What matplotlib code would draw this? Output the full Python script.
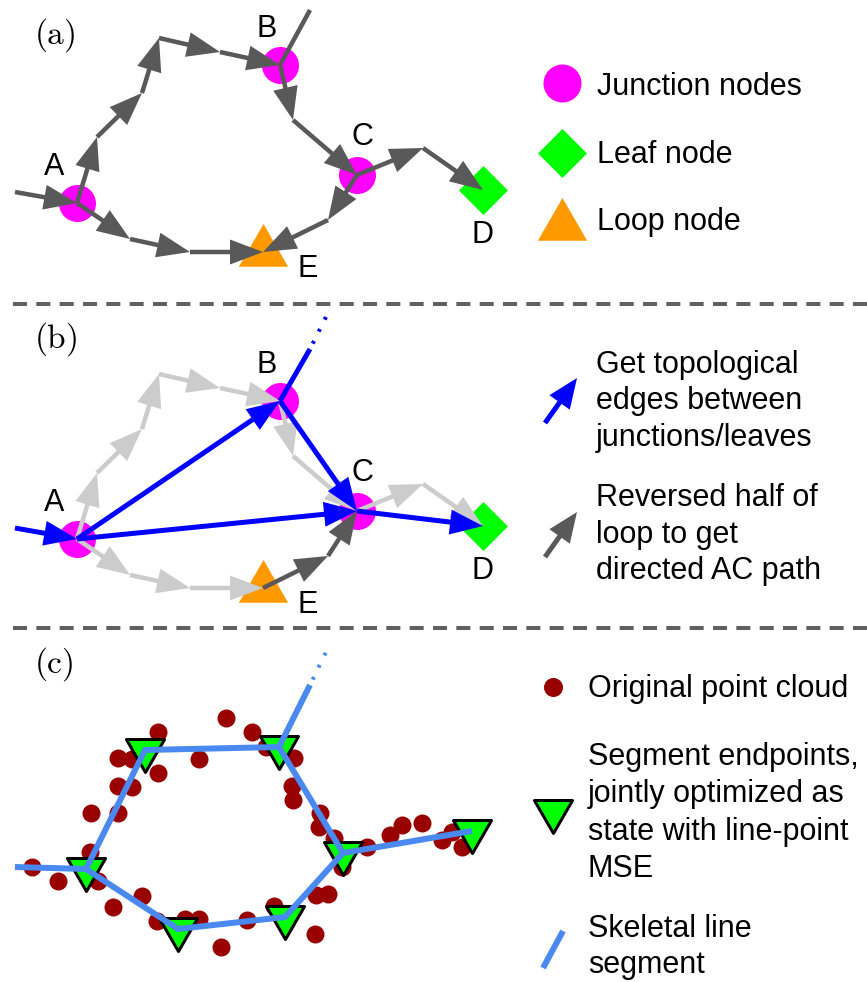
import numpy as np
import matplotlib.pyplot as plt
from matplotlib.path import Path

plt.rcParams['font.family'] = ['Liberation Sans', 'DejaVu Sans']
plt.rcParams['mathtext.fontset'] = 'cm'
plt.rcParams['lines.scale_dashes'] = False

W, H = 867, 982      # canvas in pixels, axes use pixel units
PT = 0.72            # points per pixel at dpi=100
DY_B = 336           # panel (b) repeats the graph of panel (a) lower down

# colours
MAGENTA = '#ff00ff'
GREEN = '#00ff00'
ORANGE = '#ff9900'
DARK = '#595959'
LIGHT = '#cccccc'
BLUE = '#0000ff'
SKEL = '#4a89f0'
CLOUD = '#990000'

# ---- graph nodes (panels a and b)
node_names = ['A', 'B', 'C', 'D', 'E']
node_x = [77, 280, 357, 483, 263]
node_y = [203, 65, 175, 190, 252]
label_x = [54, 267, 362, 482, 308]
label_y = [175, 37, 145, 243, 277]
junctions = [0, 1, 2]
leaves = [3]
loops = [4]

# skeleton paths between nodes (x, y)
path_ab = ([77, 97, 142, 159, 220, 280], [203, 137, 93, 38, 52, 65])
path_bc = ([280, 293, 357], [65, 120, 175])
path_cd = ([357, 423, 483], [175, 148, 190])
path_ce = ([357, 328, 263], [175, 220, 252])
path_ae = ([77, 130, 190, 263], [203, 239, 252, 252])
path_in = ([15, 77], [192, 203])
tail_a = ([280, 310], [65, 10])
tail_b = ([280, 310, 328], [401, 349, 313])

# topological edges found in panel (b)
topo_edges = [(0, 1), (1, 2), (0, 2), (2, 3)]

# ---- panel (c): point cloud and optimised segment endpoints
cloud_x = [158, 226, 252, 118, 132, 199, 158, 118, 132, 91, 118, 90, 32, 58,
           98, 142, 113, 157, 185, 199, 247, 221, 266, 294, 292, 293, 320,
           319, 334, 367, 342, 328, 316, 274, 315, 390, 402, 422, 442, 452,
           462]
cloud_y = [732, 718, 732, 758, 759, 759, 773, 786, 787, 813, 813, 852, 867,
           881, 881, 896, 907, 921, 919, 919, 920, 947, 747, 758, 786, 800,
           813, 827, 838, 847, 867, 894, 895, 906, 934, 835, 825, 823, 840,
           832, 847]
end_x = [86, 145, 279, 343, 472, 178, 285]
end_y = [869, 750, 747, 853, 831, 929, 917]
skeleton_chains = [[0, 1, 2, 3, 4], [0, 5, 6, 3]]
stub_left = ([15], [867])
tail_c = ([279, 310, 328], [747, 685, 648])


def marker_path(verts):
    codes = [Path.MOVETO] + [Path.LINETO] * (len(verts) - 1) + [Path.CLOSEPOLY]
    return Path(list(verts) + [verts[0]], codes)


TRI_UP = marker_path([(-1, -0.577), (1, -0.577), (0, 1.155)])
TRI_DOWN = marker_path([(-1, 0.577), (1, 0.577), (0, -1.155)])
DIAMOND = marker_path([(0, 1), (1, 0), (0, -1), (-1, 0)])


def arrow(ax, x0, y0, x1, y1, color, width=4.5, hw=25, hl=33, z=3):
    ax.arrow(x0, y0, x1 - x0, y1 - y0, width=width, head_width=hw,
             head_length=hl, length_includes_head=True, fc=color, ec='none',
             lw=0, zorder=z)


def arrow_chain(ax, xs, ys, color, dy=0, reverse=False, **kw):
    xs, ys = list(xs), [y + dy for y in ys]
    if reverse:
        xs, ys = xs[::-1], ys[::-1]
    for i in range(len(xs) - 1):
        arrow(ax, xs[i], ys[i], xs[i + 1], ys[i + 1], color, **kw)


def dotted_tail(ax, xs, ys, color, lw_px):
    ax.plot(xs[:2], ys[:2], color=color, lw=lw_px * PT, zorder=4,
            solid_capstyle='butt')
    ax.plot(xs[1:], ys[1:], color=color, lw=4 * PT, zorder=4,
            ls=(5.3, (2.1, 7.55)))


def draw_nodes(ax, dy=0):
    ax.plot([node_x[i] for i in junctions], [node_y[i] + dy for i in junctions],
            'o', ms=37 * PT, color=MAGENTA, mew=0, zorder=2)
    ax.plot([node_x[i] for i in leaves], [node_y[i] + dy for i in leaves],
            marker=DIAMOND, ls='none', ms=49 * PT, color=GREEN, mew=0, zorder=2)
    ax.plot([node_x[i] for i in loops], [node_y[i] + dy for i in loops],
            marker=TRI_UP, ls='none', ms=57 * PT, color=ORANGE, mew=0, zorder=2)
    for name, lx, ly in zip(node_names, label_x, label_y):
        ax.text(lx, ly + dy, name, fontsize=22, ha='center', va='baseline')


fig = plt.figure(figsize=(W / 100, H / 100), dpi=100)
ax = fig.add_axes([0, 0, 1, 1])
ax.set_xlim(0, W)
ax.set_ylim(H, 0)
ax.axis('off')

# panel tags and separators
for tag, ty in [('a', 44), ('b', 348), ('c', 673)]:
    ax.text(34, ty, r'$\mathrm{(%s)}$' % tag, fontsize=24, ha='left',
            va='baseline')
for sy in [304, 628]:
    ax.plot([13, W], [sy, sy], color='#606060', lw=4 * PT,
            ls=(0, (10.1, 6.7)))

# ---- (a) directed skeleton graph
draw_nodes(ax)
for p in [path_ab, path_bc, path_cd, path_ce, path_ae, path_in]:
    arrow_chain(ax, *p, DARK)
ax.plot(*tail_a, color=DARK, lw=4.5 * PT, zorder=3, solid_capstyle='butt')

# legend (a)
ax.plot(562, 83, 'o', ms=38 * PT, color=MAGENTA, mew=0)
ax.plot(562, 153, marker=DIAMOND, ms=49 * PT, color=GREEN, mew=0)
ax.plot(562, 226, marker=TRI_UP, ms=57 * PT, color=ORANGE, mew=0)
for txt, by in [('Junction nodes', 95), ('Leaf node', 163), ('Loop node', 230)]:
    ax.text(597, by, txt, fontsize=22, ha='left', va='baseline')

# ---- (b) topological edges
draw_nodes(ax, DY_B)
for p in [path_ab, path_bc, path_cd, path_ae]:
    arrow_chain(ax, *p, LIGHT, dy=DY_B)
arrow_chain(ax, *path_ce, DARK, dy=DY_B, reverse=True, z=4)
for i, j in topo_edges:
    arrow(ax, node_x[i], node_y[i] + DY_B, node_x[j], node_y[j] + DY_B, BLUE,
          width=5, z=5)
arrow_chain(ax, *path_in, BLUE, dy=DY_B, width=5, z=5)
dotted_tail(ax, *tail_b, BLUE, 5)

# legend (b)
arrow(ax, 545, 423, 577, 378, BLUE, width=5, hl=30)
arrow(ax, 545, 557, 577, 512, DARK, width=5, hl=30)
for k, txt in enumerate(['Get topological', 'edges between', 'junctions/leaves']):
    ax.text(596, 372.7 + 36.7 * k, txt, fontsize=22, ha='left', va='baseline')
for k, txt in enumerate(['Reversed half of', 'loop to get', 'directed AC path']):
    ax.text(596, 506 + 36.7 * k, txt, fontsize=22, ha='left', va='baseline')

# ---- (c) line segments fitted to the point cloud
ax.plot(cloud_x, cloud_y, 'o', ms=18 * PT, color=CLOUD, mew=0, zorder=2)
ax.plot(end_x, end_y, marker=TRI_DOWN, ls='none', ms=44 * PT, mfc=GREEN,
        mec='black', mew=3 * PT, zorder=3)
for chain in skeleton_chains:
    xs = [end_x[i] for i in chain]
    ys = [end_y[i] for i in chain]
    if chain[0] == 0 and len(chain) == 5:
        xs = stub_left[0] + xs
        ys = stub_left[1] + ys
    ax.plot(xs, ys, color=SKEL, lw=6 * PT, zorder=4, solid_capstyle='butt',
            solid_joinstyle='miter')
dotted_tail(ax, *tail_c, SKEL, 6)

# legend (c)
ax.plot(553, 687, 'o', ms=19 * PT, color=CLOUD, mew=0)
ax.plot(553, 811, marker=TRI_DOWN, ms=44 * PT, mfc=GREEN, mec='black',
        mew=3 * PT)
ax.plot([543, 563], [968, 931], color=SKEL, lw=6 * PT, solid_capstyle='butt')
ax.text(588, 697, 'Original point cloud', fontsize=22, ha='left', va='baseline')
for k, txt in enumerate(['Segment endpoints,', 'jointly optimized as',
                         'state with line-point', 'MSE']):
    ax.text(588, 765 + 37.4 * k, txt, fontsize=22, ha='left', va='baseline')
for k, txt in enumerate(['Skeletal line', 'segment']):
    ax.text(588, 936.7 + 36.6 * k, txt, fontsize=22, ha='left', va='baseline')

fig.savefig('out.png', dpi=100, facecolor='white')
